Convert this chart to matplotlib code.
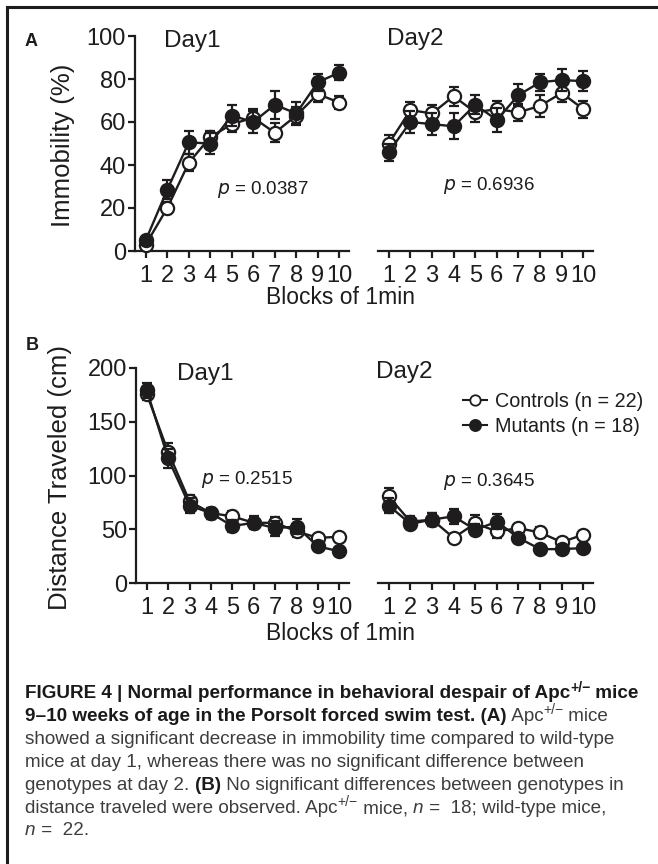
import matplotlib
matplotlib.use('Agg')
import matplotlib.pyplot as plt
from matplotlib.lines import Line2D

W, H = 658, 864
INK = '#1e1c1d'

blocks = list(range(1, 11))
tick_labels = ['1', '2', '3', '4', '5', '6', '7', '8', '9', '10']

# Immobility (%), day 1 / day 2
imm_d1_ctrl = [3, 20, 41, 53, 59, 62, 55, 63, 73, 69]
imm_d1_ctrl_err = [1.5, 3, 4, 3, 3.5, 4, 4.5, 4, 3.5, 3]
imm_d1_mut = [5, 28.5, 50.5, 50, 63, 60, 68, 64, 78.5, 83]
imm_d1_mut_err = [1.5, 4.5, 5.5, 5, 5, 5, 6.5, 5.5, 4, 3.5]
imm_d2_ctrl = [50, 65.5, 64, 72, 64.5, 66, 64.5, 67.5, 73.5, 66]
imm_d2_ctrl_err = [4, 4, 4, 4.5, 4.5, 4, 4, 5, 4, 4]
imm_d2_mut = [46, 60, 59, 58, 68, 61, 72.5, 78.5, 79.5, 79]
imm_d2_mut_err = [4, 5, 5, 6, 4.5, 5.5, 5, 4, 5, 4.5]

# Distance traveled (cm), day 1 / day 2
dist_d1_ctrl = [176, 122, 76, 65, 62, 56, 56, 48, 42, 43]
dist_d1_ctrl_err = [6, 8, 6, 5, 5, 5, 5, 5, 3, 3]
dist_d1_mut = [179.5, 116, 72, 65, 53, 56, 51, 52.5, 34, 29.5]
dist_d1_mut_err = [7, 9, 7, 5, 6, 6, 7, 7, 3, 3]
dist_d2_ctrl = [80.5, 57, 59, 42, 55.5, 48, 51, 47, 38, 45]
dist_d2_ctrl_err = [8, 5, 6, 4, 8, 6, 4, 5, 3, 3]
dist_d2_mut = [72, 55, 59, 62, 49.5, 57, 42, 31.5, 31.5, 32.5]
dist_d2_mut_err = [7, 5, 6, 7, 5, 7, 4, 3, 3, 3]

p_values = ['0.0387', '0.6936', '0.2515', '0.3645']
legend_labels = ['Controls (n = 22)', 'Mutants (n = 18)']

plt.rcParams['font.family'] = ['Liberation Sans', 'DejaVu Sans']

fig = plt.figure(figsize=(W / 100, H / 100), dpi=100)
fig.patch.set_facecolor('white')


def px_rect(left, top, right, bottom):
    return [left / W, 1 - bottom / H, (right - left) / W, (bottom - top) / H]


def fx(x):
    return x / W


def fy(y):
    return 1 - y / H


def style_axes(ax, ylim, yticks, show_y):
    ax.set_xlim(0.5, 10.45)
    ax.set_ylim(*ylim)
    ax.set_xticks(blocks)
    ax.set_xticklabels(tick_labels)
    ax.patch.set_alpha(0)
    for s in ['top', 'right']:
        ax.spines[s].set_visible(False)
    ax.spines['bottom'].set_linewidth(1.6)
    ax.spines['bottom'].set_color(INK)
    ax.tick_params(direction='out', length=5, width=1.6, labelsize=17,
                   colors=INK, pad=5)
    if show_y:
        ax.set_yticks(yticks)
        ax.spines['left'].set_linewidth(1.6)
        ax.spines['left'].set_color(INK)
        ax.tick_params(axis='y', pad=1.5)
    else:
        ax.spines['left'].set_visible(False)
        ax.tick_params(axis='y', left=False, labelleft=False)


def draw_series(ax, yc, ec, ym, em):
    common = dict(color=INK, marker='o', ms=9.5, mew=1.6, lw=1.7,
                  capsize=3.6, capthick=1.6, elinewidth=1.6, mec=INK)
    ax.errorbar(blocks, yc, yerr=ec, mfc='white', zorder=3, **common)
    ax.errorbar(blocks, ym, yerr=em, mfc=INK, zorder=4, **common)
    for a in ax.get_children():
        a.set_clip_on(False)


# panel A
axA1 = fig.add_axes(px_rect(135, 36, 349, 251))
axA2 = fig.add_axes(px_rect(378, 36, 593, 251))
style_axes(axA1, (0, 100), [0, 20, 40, 60, 80, 100], True)
style_axes(axA2, (0, 100), [], False)
draw_series(axA1, imm_d1_ctrl, imm_d1_ctrl_err, imm_d1_mut, imm_d1_mut_err)
draw_series(axA2, imm_d2_ctrl, imm_d2_ctrl_err, imm_d2_mut, imm_d2_mut_err)
axA1.set_ylabel('Immobility (%)', fontsize=18.5, color=INK)
axA1.yaxis.set_label_coords(-0.28, 0.49)

# panel B
axB1 = fig.add_axes(px_rect(136, 368, 349, 583))
axB2 = fig.add_axes(px_rect(378, 368, 593, 583))
style_axes(axB1, (0, 200), [0, 50, 100, 150, 200], True)
style_axes(axB2, (0, 200), [], False)
draw_series(axB1, dist_d1_ctrl, dist_d1_ctrl_err, dist_d1_mut, dist_d1_mut_err)
draw_series(axB2, dist_d2_ctrl, dist_d2_ctrl_err, dist_d2_mut, dist_d2_mut_err)
axB1.set_ylabel('Distance Traveled (cm)', fontsize=18.5, color=INK)
axB1.yaxis.set_label_coords(-0.30, 0.49)

# p values
pkw = dict(fontsize=13.5, color=INK, ha='center', va='center')
axA1.text(6.45, 28.5, '$\\it{p}$ = ' + p_values[0], **pkw)
axA2.text(5.65, 30.5, '$\\it{p}$ = ' + p_values[1], **pkw)
axB1.text(5.7, 96, '$\\it{p}$ = ' + p_values[2], **pkw)
axB2.text(5.65, 94, '$\\it{p}$ = ' + p_values[3], **pkw)

# figure labels
fig.text(fx(31), fy(41), 'A', fontsize=13, fontweight='bold', color=INK, ha='center', va='center')
fig.text(fx(32), fy(345), 'B', fontsize=13, fontweight='bold', color=INK, ha='center', va='center')
dkw = dict(fontsize=17.5, color=INK, ha='center', va='center')
fig.text(fx(192), fy(41), 'Day1', **dkw)
fig.text(fx(415), fy(39), 'Day2', **dkw)
fig.text(fx(205), fy(374), 'Day1', **dkw)
fig.text(fx(404), fy(372), 'Day2', **dkw)
bkw = dict(fontsize=16.5, color=INK, ha='center', va='center')
fig.text(fx(341), fy(298), 'Blocks of 1min', **bkw)
fig.text(fx(341), fy(633), 'Blocks of 1min', **bkw)

# legend
handles = [Line2D([], [], color=INK, marker='o', mfc='white', mec=INK, ms=7.5, mew=1.3, lw=1.5),
           Line2D([], [], color=INK, marker='o', mfc=INK, mec=INK, ms=8, mew=1.3, lw=1.5)]
fig.legend(handles, legend_labels, loc='upper left', bbox_to_anchor=(fx(463), fy(392)),
           frameon=False, fontsize=14.2, handlelength=1.2, handletextpad=0.4,
           labelspacing=0.28, borderaxespad=0, borderpad=0, labelcolor=INK)

# frame lines
fig.add_artist(Line2D([fx(7), 1], [fy(7), fy(7)], color=INK, lw=2.2))
fig.add_artist(Line2D([fx(7), fx(7)], [fy(7), 0], color=INK, lw=2.2))

# caption
renderer = fig.canvas.get_renderer()
CAP = 13.6
SUP = CAP * 0.74
styles = {
    'reg': dict(fontsize=CAP, color='#3d3d3d'),
    'bold': dict(fontsize=CAP, color='#1a1a1a', fontweight='bold'),
    'ital': dict(fontsize=CAP, color='#3d3d3d', fontstyle='italic'),
    'sup': dict(fontsize=SUP, color='#3d3d3d', dy=6.5),
    'bsup': dict(fontsize=SUP, color='#1a1a1a', fontweight='bold', dy=6.5),
}


def run_width(text, kw):
    a = fig.text(0, 0, 'x' + text + 'x', **kw)
    b = fig.text(0, 0, 'xx', **kw)
    w = a.get_window_extent(renderer).width - b.get_window_extent(renderer).width
    a.remove()
    b.remove()
    return w


def draw_runs(x, base, runs):
    for text, style in runs:
        kw = dict(styles[style])
        dy = kw.pop('dy', 0)
        fig.text(fx(x), fy(base - dy), text, ha='left', va='baseline', **kw)
        x += run_width(text, kw)


caption = [
    [('FIGURE 4 | Normal performance in behavioral despair of Apc', 'bold'), ('+/\u2212', 'bsup'), (' mice', 'bold')],
    [('9\u201310 weeks of age in the Porsolt forced swim test. (A)', 'bold'), (' Apc', 'reg'), ('+/\u2212', 'sup'), (' mice', 'reg')],
    [('showed a significant decrease in immobility time compared to wild-type', 'reg')],
    [('mice at day 1, whereas there was no significant difference between', 'reg')],
    [('genotypes at day 2. ', 'reg'), ('(B)', 'bold'), (' No significant differences between genotypes in', 'reg')],
    [('distance traveled were observed. Apc', 'reg'), ('+/\u2212', 'sup'), (' mice, ', 'reg'), ('n', 'ital'),
     (' =  18; wild-type mice,', 'reg')],
    [('n', 'ital'), (' =  22.', 'reg')],
]
baselines = [698, 721, 744, 767, 790, 813, 835]
for runs, base in zip(caption, baselines):
    draw_runs(25, base, runs)

fig.savefig('out.png', dpi=100, facecolor='white')
